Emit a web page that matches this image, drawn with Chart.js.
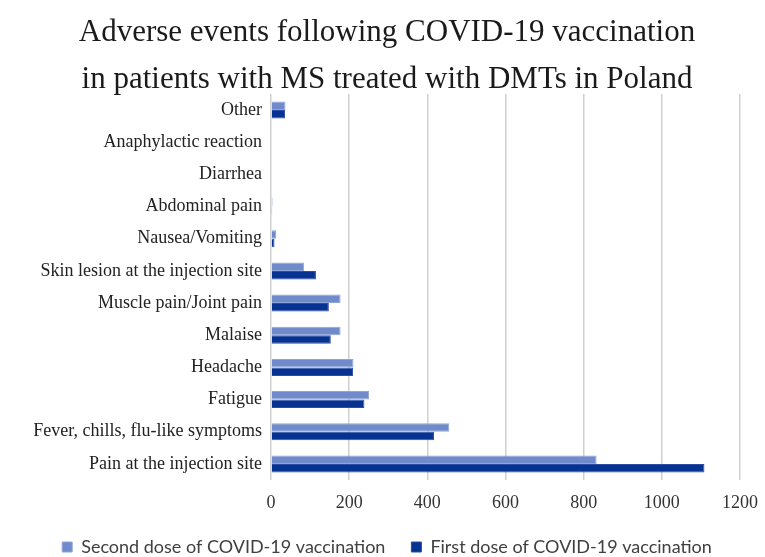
<!DOCTYPE html>
<html>
<head>
<meta charset="utf-8">
<script src="https://cdn.jsdelivr.net/npm/chart.js@4/dist/chart.umd.min.js"></script>
<style>
  html,body{margin:0;padding:0;background:#fff;}
  #wrap{width:765px;height:557px;position:relative;}
</style>
</head>
<body>
<div id="wrap"><canvas id="c"></canvas></div>
<script>
// categories, top to bottom
const categories = [
  "Other",
  "Anaphylactic reaction",
  "Diarrhea",
  "Abdominal pain",
  "Nausea/Vomiting",
  "Skin lesion at the injection site",
  "Muscle pain/Joint pain",
  "Malaise",
  "Headache",
  "Fatigue",
  "Fever, chills, flu-like symptoms",
  "Pain at the injection site"
];
// values
const secondDose = [37, 2, 0, 4, 13, 85, 178, 178, 211, 251, 456, 833];
const firstDose  = [36, 0, 0, 3, 9, 115, 148, 153, 210, 239, 417, 1109];
const xTicks = [0, 200, 400, 600, 800, 1000, 1200];

const serif = "'Liberation Serif', 'Times New Roman', serif";

new Chart(document.getElementById("c"), {
  type: "bar",
  data: {
    labels: categories,
    datasets: [
      {label: "Second dose of COVID-19 vaccination", data: secondDose,
       backgroundColor: "#6f8bcb", borderColor: "#8ea5da", borderWidth: 1, borderSkipped: "left"},
      {label: "First dose of COVID-19 vaccination", data: firstDose,
       backgroundColor: "#063291", borderColor: "#2a4ea5", borderWidth: 1, borderSkipped: "left"}
    ]
  },
  options: {
    indexAxis: "y",
    responsive: true,
    maintainAspectRatio: false,
    animation: false,
    layout: {padding: {left: 34, right: 25, top: 0, bottom: -9}},
    datasets: {bar: {categoryPercentage: 0.53, barPercentage: 1}},
    plugins: {
      title: {
        display: true,
        text: ["Adverse events following COVID-19 vaccination",
               "in patients with MS treated with DMTs in Poland"],
        font: {family: serif, size: 31, weight: "normal", lineHeight: 1.5},
        color: "#1a1a1a",
        padding: {top: 10, bottom: -9}
      },
      legend: {
        position: "bottom",
        labels: {
          font: {family: "Lato, 'Liberation Sans', sans-serif", size: 18},
          color: "#404040",
          boxWidth: 10, boxHeight: 10,
          padding: 26
        }
      },
      tooltip: {enabled: false}
    },
    scales: {
      x: {
        min: 0, max: 1200,
        afterBuildTicks: ax => { ax.ticks = xTicks.map(v => ({value: v})); },
        afterFit: ax => { ax.height = 32; ax.paddingRight = 0; },
        grid: {color: "#d0d0d0", lineWidth: 1.5, drawTicks: false},
        border: {display: false},
        ticks: {font: {family: serif, size: 18, lineHeight: 1}, color: "#333", padding: 14,
                callback: v => String(v)}
      },
      y: {
        afterFit: ax => { ax.width = 237; },
        grid: {display: false, drawTicks: false},
        border: {display: false},
        ticks: {font: {family: serif, size: 18}, color: "#222", padding: 9}
      }
    }
  }
});
</script>
</body>
</html>
